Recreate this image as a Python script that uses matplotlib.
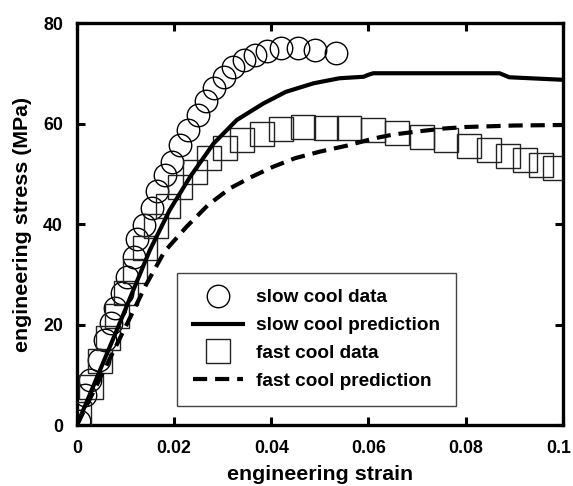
import matplotlib
matplotlib.use("Agg")
import matplotlib.pyplot as plt
import matplotlib.transforms as mtransforms

plt.rcParams['font.family'] = ['Liberation Sans', 'DejaVu Sans']
plt.rcParams['font.weight'] = 'bold'

# slow cool data (circles)
slow_strain = [0.0004, 0.0017, 0.0027, 0.0045, 0.0058, 0.0069, 0.0079, 0.0093, 0.0103, 0.0117,
               0.0123, 0.0137, 0.0154, 0.0164, 0.0181, 0.0195, 0.0212, 0.0229, 0.0250, 0.0266,
               0.0283, 0.0302, 0.0322, 0.0343, 0.0366, 0.0392, 0.0421, 0.0455, 0.0490, 0.0533]
slow_stress = [0.7, 6.0, 9.0, 12.9, 16.9, 20.2, 23.2, 26.2, 29.5, 33.5,
               37.0, 39.8, 43.1, 46.5, 49.8, 52.4, 55.7, 58.7, 61.7, 64.5,
               67.0, 69.2, 71.2, 72.6, 73.6, 74.4, 75.0, 75.0, 74.7, 74.0]

# fast cool data (squares)
fast_strain = [0.0005, 0.0029, 0.0047, 0.0063, 0.0082, 0.0100, 0.0120, 0.0141, 0.0163, 0.0188,
               0.0212, 0.0242, 0.0272, 0.0305, 0.0340, 0.0380, 0.0421, 0.0466, 0.0513, 0.0560,
               0.0610, 0.0659, 0.0710, 0.0759, 0.0807, 0.0848, 0.0887, 0.0922, 0.0955, 0.0985]
fast_stress = [2.2, 7.6, 12.7, 17.3, 21.7, 26.2, 30.6, 35.2, 39.6, 43.6,
               47.3, 50.3, 53.1, 55.1, 56.7, 58.0, 58.9, 59.4, 59.2, 59.2,
               58.8, 58.1, 57.3, 56.7, 55.6, 54.7, 53.6, 52.7, 51.7, 51.1]

# slow cool prediction (solid)
slow_pred_strain = [0.0, 0.0079, 0.0150, 0.0191, 0.0233, 0.0281, 0.0329, 0.0384, 0.0430,
                    0.0487, 0.0540, 0.0590, 0.0600, 0.0610, 0.0870, 0.0890, 0.1000]
slow_pred_stress = [0.0, 18.2, 34.8, 42.8, 49.4, 56.0, 60.7, 64.0, 66.3,
                    68.0, 69.0, 69.3, 69.7, 70.0, 70.0, 69.2, 68.7]

# fast cool prediction (dashed)
fast_pred_strain = [0.0, 0.0110, 0.0141, 0.0180, 0.0226, 0.0270, 0.0315, 0.0360, 0.0404,
                    0.0449, 0.0500, 0.0556, 0.0610, 0.0651, 0.0700, 0.0755, 0.0800, 0.0900, 0.1000]
fast_pred_stress = [0.0, 21.5, 27.7, 34.5, 39.5, 43.8, 47.1, 49.4, 51.4,
                    53.1, 54.4, 55.6, 57.0, 57.8, 58.4, 59.0, 59.3, 59.6, 59.7]

xticks = [0, 0.02, 0.04, 0.06, 0.08, 0.1]
xtick_labels = ['0', '0.02', '0.04', '0.06', '0.08', '0.1']
yticks = [0, 20, 40, 60, 80]
ytick_labels = ['0', '20', '40', '60', '80']

fig = plt.figure(figsize=(5.73, 4.86), dpi=100)
ax = fig.add_axes([77/573, 1-425/486, (562.7-77)/573, (425-23)/486])

ax.plot(slow_strain, slow_stress, linestyle='none', marker='o', markersize=16.2,
        markerfacecolor='none', markeredgecolor='black', markeredgewidth=1.0,
        label='slow cool data', zorder=3)
ax.plot(slow_pred_strain, slow_pred_stress, color='black', linewidth=3.0,
        label='slow cool prediction', zorder=4)
ax.plot(fast_strain, fast_stress, linestyle='none', marker='s', markersize=17.0,
        markerfacecolor='none', markeredgecolor='#222222', markeredgewidth=1.0,
        label='fast cool data', zorder=3)
ax.plot(fast_pred_strain, fast_pred_stress, color='black', linewidth=3.0,
        linestyle=(0, (3.4, 1.9)), label='fast cool prediction', zorder=4)

ax.set_xlim(0, 0.1)
ax.set_ylim(0, 80)
ax.set_xticks(xticks)
ax.set_xticklabels(xtick_labels)
ax.set_yticks(yticks)
ax.set_yticklabels(ytick_labels)
ax.tick_params(direction='in', length=6, width=2.2, labelsize=12.8,
               top=True, right=True)
ax.tick_params(axis='x', pad=10.5)
ax.tick_params(axis='y', pad=10)
for s in ax.spines.values():
    s.set_linewidth(2.4)

# nudge the last x tick label slightly left, as in the reference
last = ax.get_xticklabels()[-1]
last.set_transform(last.get_transform() +
                   mtransforms.ScaledTranslation(-4/100, 0, fig.dpi_scale_trans))

ax.set_xlabel('engineering strain', fontsize=15.4, fontweight='bold', labelpad=6)
ax.set_ylabel('engineering stress (MPa)', fontsize=15.4, fontweight='bold', labelpad=8)

leg = ax.legend(loc='upper left', bbox_to_anchor=(177/573, 1-273/486),
                bbox_transform=fig.transFigure, fancybox=False, framealpha=1,
                edgecolor='#444444', fontsize=13.7, handlelength=2.6,
                handletextpad=0.7, borderpad=0.85, labelspacing=0.55, borderaxespad=0)
leg.get_frame().set_linewidth(1.0)
for t in leg.get_texts():
    t.set_fontweight('bold')

fig.savefig('out.png', dpi=100)
